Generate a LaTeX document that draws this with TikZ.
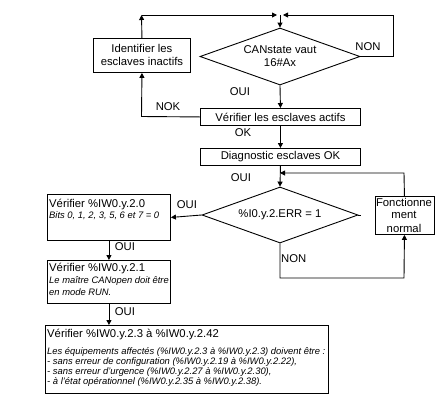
\documentclass[tikz,border=0pt]{standalone}
\usepackage{fontspec}
\setmainfont{Liberation Sans}
\usetikzlibrary{shapes.geometric,arrows.meta}
\begin{document}
\begin{tikzpicture}[x=1pt,y=-1pt,
  every node/.style={font=\fontsize{11.3}{13}\selectfont,inner sep=0pt},
  box/.style={draw,line width=0.9pt,anchor=north west,align=center},
  dia/.style={draw,line width=0.9pt,shape=diamond,aspect=2.8,align=center},
  lbl/.style={font=\fontsize{11.3}{13}\selectfont},
  txt/.style={anchor=base west},
  itx/.style={anchor=base west,font=\fontsize{9.4}{10}\selectfont\itshape},
  ln/.style={line width=0.9pt},
  arr/.style={line width=0.9pt,-{Triangle[length=5pt,width=5pt]}}
]
\useasboundingbox (0,0) rectangle (440,400);

% nodes
\node[box,minimum width=97pt,minimum height=34pt] (ident) at (93,38) {Identifier les\\esclaves inactifs};
\node[dia,minimum width=160pt,minimum height=57pt] (d1) at (280,56.5) {CANstate vaut\\16\#Ax};
\node[box,minimum width=160pt,minimum height=17pt] (act) at (200,108) {Vérifier les esclaves actifs};
\node[box,minimum width=160pt,minimum height=17pt] (diag) at (200,148) {Diagnostic esclaves OK};
\node[dia,minimum width=156pt,minimum height=56pt] (d2) at (280,215) {\%I0.y.2.ERR = 1};
\node[box,minimum width=59pt,minimum height=38pt] (fonct) at (374.5,196) {};
\node (f1) at (404,202) {Fonctionne};
\node (f2) at (404,215) {ment};
\node (f3) at (404,228) {normal};
\node[box,minimum width=123pt,minimum height=46pt] (b1) at (47,194) {};
\node[txt] (b1a) at (49,207) {Vérifier \%IW0.y.2.0};
\node[itx] (b1b) at (49,218.5) {Bits 0, 1, 2, 3, 5, 6 et 7 = 0};
\node[box,minimum width=123pt,minimum height=43pt] (b2) at (47,260) {};
\node[txt] (b2a) at (49,271) {Vérifier \%IW0.y.2.1};
\node[itx] (b2b) at (49,283.5) {Le maître CANopen doit être};
\node[itx] (b2c) at (49,295) {en mode RUN.};
\node[box,minimum width=283pt,minimum height=68pt] (b3) at (45,325) {};
\node[txt] (b3a) at (47,337) {Vérifier \%IW0.y.2.3 à \%IW0.y.2.42};
\node[itx] (b3b) at (47,354.5) {Les équipements affectés (\%IW0.y.2.3 à \%IW0.y.2.3) doivent être :};
\node[itx] (b3c) at (47,364.5) {- sans erreur de configuration (\%IW0.y.2.19 à \%IW0.y.2.22),};
\node[itx] (b3d) at (47,374.5) {- sans erreur d'urgence (\%IW0.y.2.27 à \%IW0.y.2.30),};
\node[itx] (b3e) at (47,384.5) {- à l'état opérationnel (\%IW0.y.2.35 à \%IW0.y.2.38).};

% labels
\node[lbl] (lnon1) at (368,47) {NON};
\node[lbl] (loui1) at (240,92) {OUI};
\node[lbl] (lnok) at (168,107) {NOK};
\node[lbl] (lok) at (243,133) {OK};
\node[lbl] (loui2) at (241,178) {OUI};
\node[lbl] (loui3) at (187,205) {OUI};
\node[lbl] (loui4) at (125,247) {OUI};
\node[lbl] (loui5) at (125,312) {OUI};
\node[lbl,anchor=west] (lnon2) at (281,259) {NON};

% coordinates
\coordinate (c1) at (141.5,15);
\coordinate (m) at (280,15);
\coordinate (ml) at (277,15);
\coordinate (mr) at (283,15);
\coordinate (cr1) at (393,56.5);
\coordinate (cr2) at (393,15);
\coordinate (cn) at (141.5,116.5);
\coordinate (cf) at (404,173);
\coordinate (cm2) at (280,173);
\coordinate (cb1) at (280,278);
\coordinate (cb2) at (404,278);
\coordinate (stub) at (361,215);

% connectors
\draw[arr] (ident.north) -- (c1);
\draw[arr] (c1) -- (ml);
\draw[arr] (d1.east) -- (cr1) -- (cr2) -- (mr);
\draw[arr] (m) -- (d1.north);
\draw[arr] (d1.south) -- (act.north);
\draw[arr] (act.west) -- (cn) -- (ident.south);
\draw[arr] (act.south) -- (diag.north);
\draw[arr] (diag.south) -- (d2.north);
\draw[arr] (fonct.north) -- (cf) -- (cm2);
\draw[ln] (d2.east) -- (stub);
\draw[arr] (d2.west) -- (b1.east);
\draw[arr] (b1.south) -- (b2.north);
\draw[arr] (b2.south) -- (b2.south |- b3.north);
\draw[arr] (d2.south) -- (cb1) -- (cb2) -- (fonct.south);
\end{tikzpicture}
\end{document}
